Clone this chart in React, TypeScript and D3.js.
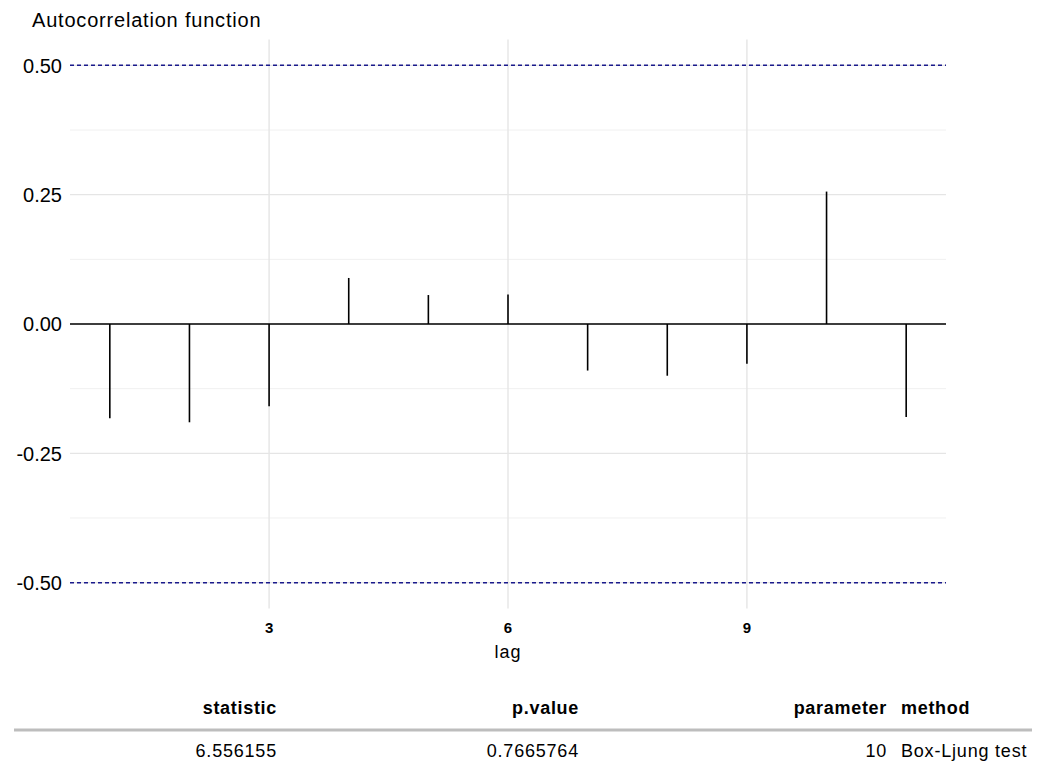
import React from "react";
import * as d3 from "d3";

const lags = [1, 2, 3, 4, 5, 6, 7, 8, 9, 10, 11];
const acfValues = [-0.182, -0.19, -0.159, 0.089, 0.056, 0.057, -0.09, -0.10, -0.077, 0.256, -0.18];
const ciBounds = [0.5, -0.5];
const yTicks = [-0.5, -0.25, 0, 0.25, 0.5];
const yMinor = [-0.375, -0.125, 0.125, 0.375];
const xTicks = [3, 6, 9];
const tableHeaders = ["statistic", "p.value", "parameter", "method"];
const tableValues = ["6.556155", "0.7665764", "10", "Box-Ljung test"];

const W = 1039;
const H = 762;
const FONT = "'Liberation Sans', Arial, Helvetica, sans-serif";

export default function App() {
  const x = d3.scaleLinear().domain([0.5, 11.5]).range([70, 946]);
  const y = d3.scaleLinear().domain([-0.55, 0.55]).range([608.5, 39.5]);
  const fmt = (v: number) => d3.format(".2f")(v).replace("\u2212", "-");
  const grid = "#e5e5e5";
  const colX = [277, 579, 887, 901];
  const colAnchor = ["end", "end", "end", "start"];

  return (
    <svg width={W} height={H} style={{ position: "absolute", left: 0, top: 0, background: "#fff" }} fontFamily={FONT}>
      <text x={32} y={27} fontSize={20} letterSpacing={0.8} fill="#000">Autocorrelation function</text>
      {yMinor.map((v) => (
        <line key={"ym" + v} x1={70} x2={946} y1={y(v)} y2={y(v)} stroke="#f0f0f0" strokeWidth={1} />
      ))}
      {yTicks.map((v) => (
        <line key={"yg" + v} x1={70} x2={946} y1={y(v)} y2={y(v)} stroke={grid} strokeWidth={1.2} />
      ))}
      {xTicks.map((v) => (
        <line key={"xg" + v} x1={x(v)} x2={x(v)} y1={39.5} y2={608.5} stroke={grid} strokeWidth={1.4} />
      ))}
      {yTicks.map((v) => (
        <text key={"yl" + v} x={62} y={y(v)} dy="0.36em" textAnchor="end" fontSize={20} fill="#000">{fmt(v)}</text>
      ))}
      {ciBounds.map((v) => (
        <line key={"ci" + v} x1={70} x2={946} y1={y(v)} y2={y(v)} stroke="#1a1a8c" strokeWidth={1.5} strokeDasharray="4,3" />
      ))}
      <line x1={70} x2={946} y1={y(0)} y2={y(0)} stroke="#000" strokeWidth={1.6} />
      {lags.map((l, i) => (
        <line key={"s" + l} x1={x(l)} x2={x(l)} y1={y(0)} y2={y(acfValues[i])} stroke="#000" strokeWidth={1.6} />
      ))}
      {xTicks.map((v) => (
        <text key={"xl" + v} x={x(v)} y={633} textAnchor="middle" fontSize={15} fontWeight="bold" fill="#000">{v}</text>
      ))}
      <text x={x(6)} y={658} textAnchor="middle" fontSize={18} letterSpacing={1} fill="#000">lag</text>
      {tableHeaders.map((h, i) => (
        <text key={"th" + h} x={colX[i]} y={714} textAnchor={colAnchor[i]} fontSize={18} letterSpacing={0.7} fontWeight="bold" fill="#000">{h}</text>
      ))}
      <line x1={14} x2={1032} y1={730} y2={730} stroke="#bdbdbd" strokeWidth={3} />
      {tableValues.map((v, i) => (
        <text key={"tv" + i} x={colX[i]} y={757} textAnchor={colAnchor[i]} fontSize={18} letterSpacing={0.8} fill="#000">{v}</text>
      ))}
    </svg>
  );
}
